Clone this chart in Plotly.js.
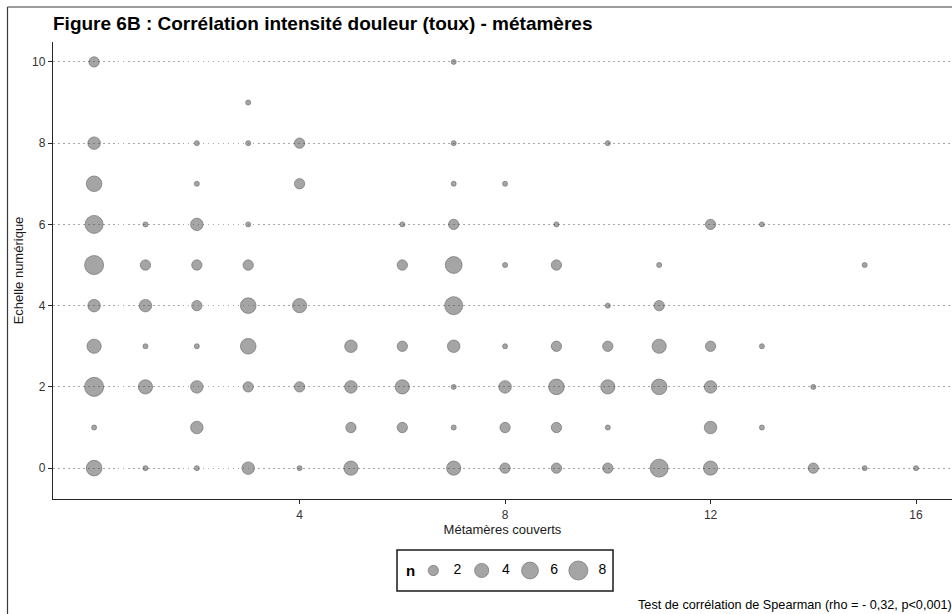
<!DOCTYPE html>
<html>
<head>
<meta charset="utf-8">
<script src="https://cdn.plot.ly/plotly-3.0.1.min.js"></script>
<style>
  html, body { margin: 0; padding: 0; background: #ffffff; }
  #chart { width: 952px; height: 614px; }
</style>
</head>
<body>
<div id="chart"></div>
<script>
// ---- Data ----
// Métamères couverts (x), Echelle numérique (y), number of patients (n)
const metameres = [
  0,0,0,0,0,0,0,0,0,0,
  1,1,1,1,1,1,
  2,2,2,2,2,2,2,2,2,
  3,3,3,3,3,3,3,3,
  4,4,4,4,4,
  5,5,5,5,
  6,6,6,6,6,
  7,7,7,7,7,7,7,7,7,7,
  8,8,8,8,8,8,
  9,9,9,9,9,9,
  10,10,10,10,10,10,
  11,11,11,11,11,
  12,12,12,12,12,
  13,13,13,
  14,14,
  15,15,
  16
];
const echelle = [
  10,8,7,6,5,4,3,2,1,0,
  6,5,4,3,2,0,
  8,7,6,5,4,3,2,1,0,
  9,8,6,5,4,3,2,0,
  8,7,4,2,0,
  3,2,1,0,
  6,5,3,2,1,
  10,8,7,6,5,4,3,2,1,0,
  7,5,3,2,1,0,
  6,5,3,2,1,0,
  8,4,3,2,1,0,
  5,4,3,2,0,
  6,3,2,1,0,
  6,3,1,
  2,0,
  5,0,
  0
];
const effectif = [
  2,3,5,7,8,3,4,8,1,5,
  1,2,3,1,4,1,
  1,1,3,2,2,1,3,3,1,
  1,1,1,2,5,5,2,3,
  2,2,4,2,1,
  3,3,2,4,
  1,2,2,4,2,
  1,1,1,2,6,7,3,1,1,4,
  1,1,1,3,2,2,
  1,2,2,5,2,2,
  1,1,2,4,1,2,
  1,2,4,5,7,
  2,2,3,3,4,
  1,1,1,
  1,2,
  1,1,
  1
];
const xTicks = [4, 8, 12, 16];
const yTicks = [0, 2, 4, 6, 8, 10];
const legendN = [2, 4, 6, 8];

const titleText = "Figure 6B : Corrélation intensité douleur (toux) - métamères";
const xTitle = "Métamères couverts";
const yTitle = "Echelle numérique";
const footText = "Test de corrélation de Spearman (rho = - 0,32, p<0,001)";

// ---- size mapping (area-like, as in ggplot scale_size) ----
function diam(n) { return 5 + 5.3 * Math.sqrt(n - 1); }

const FONT = "Liberation Sans, Arial, Helvetica, sans-serif";
const fill = "rgba(72,72,72,0.70)";
const edge = "rgba(45,45,45,0.80)";

const points = {
  type: "scatter",
  mode: "markers",
  x: metameres,
  y: echelle,
  marker: {
    size: effectif.map(diam),
    sizemode: "diameter",
    color: fill,
    line: { color: edge, width: 0.8 }
  },
  hoverinfo: "x+y+text",
  text: effectif.map(n => "n = " + n),
  showlegend: false,
  xaxis: "x",
  yaxis: "y",
  cliponaxis: false
};

const legIdx = legendN.map((_, i) => i);
const legendDots = {
  type: "scatter",
  mode: "markers",
  x: legIdx,
  y: legendN.map(() => 0),
  marker: {
    size: legendN.map(diam),
    sizemode: "diameter",
    color: fill,
    line: { color: edge, width: 0.8 }
  },
  hoverinfo: "skip",
  showlegend: false,
  xaxis: "x2",
  yaxis: "y2",
  cliponaxis: false
};
const legendLabels = {
  type: "scatter",
  mode: "text",
  x: legIdx.map(i => i + 0.5),
  y: legendN.map(() => 0),
  text: legendN.map(String),
  textfont: { family: FONT, size: 14, color: "#000000" },
  textposition: "middle center",
  hoverinfo: "skip",
  showlegend: false,
  xaxis: "x2",
  yaxis: "y2",
  cliponaxis: false
};

// plot area: left 53 px, right 952 px (width 899), top 42 px, bottom 614 px (height 572)
const W = 899, H = 572, L = 53, T = 42;
const px2x = p => (p - L) / W;
const py2y = p => (T + H - p) / H;

const layout = {
  width: 952,
  height: 614,
  margin: { l: L, r: 0, t: T, b: 0, pad: 0 },
  paper_bgcolor: "#ffffff",
  plot_bgcolor: "#ffffff",
  font: { family: FONT, color: "#333333" },
  title: {
    text: "<b>" + titleText + "</b>",
    font: { family: FONT, size: 19, color: "#000000" },
    x: 0, xref: "paper", xanchor: "left",
    y: 1 - 23 / 614, yref: "container", yanchor: "middle"
  },
  xaxis: {
    domain: [0, 1],
    range: [-0.8, 16.7],
    tickvals: xTicks,
    ticktext: xTicks.map(String),
    showgrid: false,
    zeroline: false,
    showline: true,
    linecolor: "#262626",
    linewidth: 1.3,
    ticks: "outside",
    ticklen: 4,
    tickwidth: 1,
    tickcolor: "#262626",
    tickfont: { family: FONT, size: 12, color: "#333333" },
    title: { text: xTitle, font: { family: FONT, size: 13, color: "#1a1a1a" }, standoff: 3 },
    anchor: "y",
    fixedrange: true
  },
  yaxis: {
    domain: [py2y(499), 1],
    range: [-0.76, 10.49],
    tickvals: yTicks,
    ticktext: yTicks.map(String),
    showgrid: true,
    gridcolor: "#a8a8a8",
    gridwidth: 1.3,
    griddash: "1.5px,3.5px",
    zeroline: false,
    showline: true,
    linecolor: "#262626",
    linewidth: 1.3,
    ticks: "outside",
    ticklen: 4,
    tickwidth: 1,
    tickcolor: "#262626",
    tickfont: { family: FONT, size: 12, color: "#333333" },
    title: { text: yTitle, font: { family: FONT, size: 13, color: "#1a1a1a" }, standoff: 5 },
    anchor: "x",
    fixedrange: true
  },
  xaxis2: {
    domain: [px2x(397), px2x(613)],
    range: [-0.752, 3.717],
    visible: false,
    anchor: "y2",
    fixedrange: true
  },
  yaxis2: {
    domain: [py2y(591), py2y(550)],
    range: [-1, 1],
    visible: false,
    anchor: "x2",
    fixedrange: true
  },
  shapes: [
    // legend box
    { type: "rect", xref: "x2 domain", yref: "y2 domain", x0: 0, x1: 1, y0: 0, y1: 1,
      line: { color: "#1a1a1a", width: 1.5 }, fillcolor: "rgba(0,0,0,0)", layer: "below" },
    // outer figure border (left and top visible)
    { type: "line", xref: "paper", yref: "paper", x0: px2x(7.5), x1: px2x(7.5), y0: py2y(7), y1: py2y(640),
      line: { color: "#3a3a3a", width: 1.2 } },
    { type: "line", xref: "paper", yref: "paper", x0: px2x(7.5), x1: px2x(980), y0: py2y(7), y1: py2y(7),
      line: { color: "#3a3a3a", width: 1.2 } }
  ],
  annotations: [
    { text: "<b>n</b>", xref: "x2", yref: "y2", x: -0.48, y: 0, showarrow: false,
      xanchor: "center", yanchor: "middle", font: { family: FONT, size: 15, color: "#000000" } },
    { text: footText, xref: "paper", yref: "paper", x: px2x(636), y: py2y(605), showarrow: false,
      xanchor: "left", yanchor: "middle", font: { family: FONT, size: 12.7, color: "#000000" } }
  ],
  showlegend: false,
  hovermode: "closest"
};

Plotly.newPlot("chart", [points, legendDots, legendLabels], layout, { displayModeBar: false, staticPlot: false });
</script>
</body>
</html>
